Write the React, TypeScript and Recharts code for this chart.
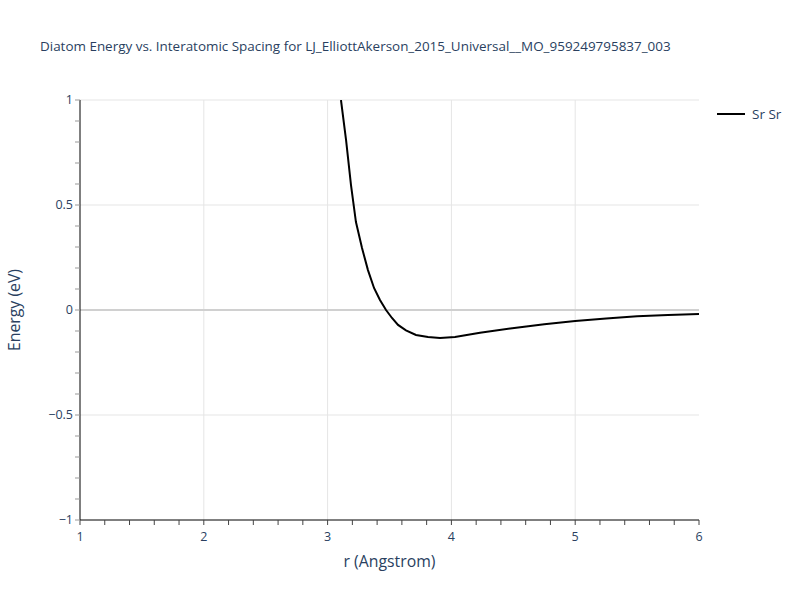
import React from "react";
import { LineChart, Line, XAxis, YAxis, ReferenceLine } from "recharts";

const rValues = [3.108, 3.149, 3.189, 3.229, 3.278, 3.326, 3.375, 3.423, 3.472, 3.52, 3.569, 3.633, 3.714, 3.811, 3.908, 4.029, 4.231, 4.475, 4.75, 5.0, 5.25, 5.5, 5.75, 6.0];
const energyValues = [1.0, 0.81, 0.595, 0.419, 0.295, 0.19, 0.105, 0.048, 0.0, -0.038, -0.071, -0.097, -0.119, -0.129, -0.133, -0.129, -0.108, -0.088, -0.068, -0.052, -0.04, -0.03, -0.024, -0.019];
const seriesName = "Sr Sr";

const xMajorTicks = [1, 2, 3, 4, 5, 6];
const xMinorTicks = [1, 1.2, 1.4, 1.6, 1.8, 2, 2.2, 2.4, 2.6, 2.8, 3, 3.2, 3.4, 3.6, 3.8, 4, 4.2, 4.4, 4.6, 4.8, 5, 5.2, 5.4, 5.6, 5.8, 6];
const yMajorTicks = [-1, -0.5, 0, 0.5, 1];
const yMinorTicks = [-1, -0.9, -0.8, -0.7, -0.6, -0.5, -0.4, -0.3, -0.2, -0.1, 0, 0.1, 0.2, 0.3, 0.4, 0.5, 0.6, 0.7, 0.8, 0.9, 1];
const yTickLabels: Record<string, string> = { "-1": "\u22121", "-0.5": "\u22120.5", "0": "0", "0.5": "0.5", "1": "1" };
const xGrid = [2, 3, 4, 5];
const yGrid = [-0.5, 0.5, 1];

const data = rValues.map((r, i) => ({ r, e: energyValues[i] }));

const FONT = '"Open Sans", verdana, arial, sans-serif';
const TXT = "#2a3f5f";

const isMajor = (v: number, list: number[]) => list.some((m) => Math.abs(m - v) < 1e-6);

const XTick = (props: any) => {
  const { x, y, payload } = props;
  const v = payload.value;
  const major = isMajor(v, xMajorTicks);
  return (
    <g>
      <line x1={x} x2={x} y1={y} y2={y + 5} stroke="#444" strokeWidth={1} />
      {major && (
        <text x={x} y={y + 21} textAnchor="middle" fill={TXT} fontSize={12.5} fontFamily={FONT}>
          {String(v)}
        </text>
      )}
    </g>
  );
};

const YTick = (props: any) => {
  const { x, y, payload } = props;
  const v = payload.value;
  const major = isMajor(v, yMajorTicks);
  const key = String(Math.round(v * 10) / 10);
  return (
    <g>
      <line x1={x - 5} x2={x} y1={y} y2={y} stroke="#999" strokeWidth={1} />
      {major && (
        <text x={x - 7} y={y + 4} textAnchor="end" fill={TXT} fontSize={12.5} fontFamily={FONT}>
          {yTickLabels[key] ?? key}
        </text>
      )}
    </g>
  );
};

export default function App() {
  return (
    <div style={{ position: "absolute", left: 0, top: 0, width: 800, height: 600, background: "#fff" }}>
      <div
        style={{
          position: "absolute",
          left: 40,
          top: 37,
          fontFamily: FONT,
          fontSize: 13.45,
          color: TXT,
          whiteSpace: "nowrap",
        }}
      >
        Diatom Energy vs. Interatomic Spacing for LJ_ElliottAkerson_2015_Universal__MO_959249795837_003
      </div>
      <svg width={90} height={24} style={{ position: "absolute", left: 710, top: 104 }}>
        <line x1={7} x2={35} y1={10} y2={10} stroke="#000" strokeWidth={2} />
        <text x={42} y={14.5} fill={TXT} fontSize={13.5} fontFamily={FONT}>
          {seriesName}
        </text>
      </svg>
      <LineChart width={800} height={600} data={data} margin={{ top: 100, right: 101, bottom: 0, left: 0 }}>
        {xGrid.map((v) => (
          <ReferenceLine key={"xg" + v} x={v} stroke="#e5e5e5" strokeWidth={1} />
        ))}
        {yGrid.map((v) => (
          <ReferenceLine key={"yg" + v} y={v} stroke="#e5e5e5" strokeWidth={1} />
        ))}
        <ReferenceLine y={0} stroke="#d0d0d0" strokeWidth={2} />
        <XAxis
          dataKey="r"
          type="number"
          domain={[1, 6]}
          ticks={xMinorTicks}
          interval={0}
          tick={<XTick />}
          tickLine={false}
          tickSize={0}
          tickMargin={0}
          axisLine={{ stroke: "#000", strokeWidth: 1 }}
          height={80}
          allowDataOverflow
          label={{ value: "r (Angstrom)", position: "insideTop", offset: 36, fill: TXT, fontSize: 15.8, fontFamily: FONT }}
        />
        <YAxis
          type="number"
          domain={[-1, 1]}
          ticks={yMinorTicks}
          interval={0}
          tick={<YTick />}
          tickLine={false}
          tickSize={0}
          tickMargin={0}
          axisLine={{ stroke: "#000", strokeWidth: 1 }}
          width={80}
          allowDataOverflow
          label={{ value: "Energy (eV)", angle: -90, position: "insideLeft", offset: 14, fill: TXT, fontSize: 15.8, fontFamily: FONT, style: { textAnchor: "middle" } }}
        />
        <Line
          type="linear"
          dataKey="e"
          name={seriesName}
          stroke="#000"
          strokeWidth={2}
          dot={false}
          isAnimationActive={false}
        />
      </LineChart>
    </div>
  );
}
